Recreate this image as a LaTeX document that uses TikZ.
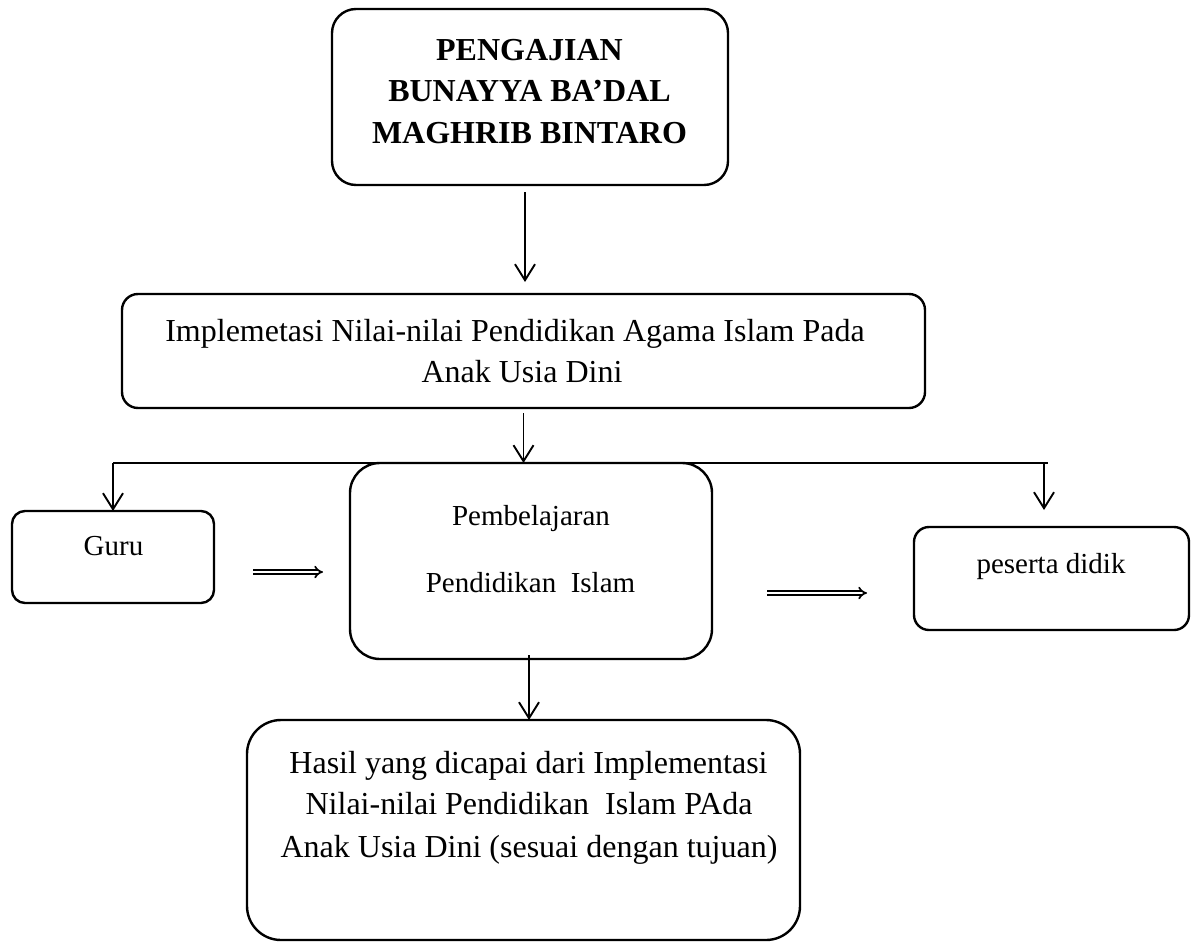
\documentclass[tikz,border=0pt]{standalone}
\usepackage{fontspec}
\setmainfont{Liberation Serif}
\usetikzlibrary{arrows.meta}
\begin{document}
\begin{tikzpicture}[x=1pt,y=-1pt,
  box/.style={draw, line width=2.4pt, inner sep=0pt, outer sep=0pt},
  arr/.style={line width=1.9pt, -{Straight Barb[length=16pt,width=20pt,line width=1.9pt]}},
  dbl/.style={double, double distance=2.4pt, line width=1.7pt, -{Implies}},
  bigtxt/.style={font=\fontsize{32}{41}\selectfont, anchor=base, inner sep=0pt},
  boldtxt/.style={font=\fontsize{32}{41}\selectfont\bfseries, anchor=base, inner sep=0pt},
  midtxt/.style={font=\fontsize{29}{35}\selectfont, anchor=base, inner sep=0pt},
]
\useasboundingbox (0,0) rectangle (1198,942);

% boxes
\node[box, rounded corners=24pt, minimum width=396pt, minimum height=176pt] (top) at (530,97) {};
\node[box, rounded corners=16pt, minimum width=803pt, minimum height=114pt] (box2) at (523.5,351) {};
\node[box, rounded corners=13pt, minimum width=202pt, minimum height=92pt] (guru) at (113,557) {};
\node[box, rounded corners=30pt, minimum width=362pt, minimum height=196pt] (pemb) at (531,561) {};
\node[box, rounded corners=15pt, minimum width=275pt, minimum height=103pt] (peserta) at (1051.5,578.5) {};
\node[box, rounded corners=34pt, minimum width=553pt, minimum height=220pt] (hasil) at (523.5,830) {};

% texts
\node[boldtxt] (t1) at (529.5,60) {PENGAJIAN};
\node[boldtxt] (t2) at (529.5,101.7) {BUNAYYA BA’DAL};
\node[boldtxt] (t3) at (529.5,143.3) {MAGHRIB BINTARO};

\node[bigtxt] (b1) at (515,341) {Implemetasi Nilai-nilai Pendidikan Agama Islam Pada};
\node[bigtxt] (b2) at (522,382) {Anak Usia Dini};

\node[midtxt] (g1) at (113.5,555) {Guru};
\node[midtxt] (p1) at (531,525.6) {Pembelajaran};
\node[midtxt] (p2) at (530.5,592.7) {Pendidikan\ \ Islam};
\node[midtxt] (s1) at (1051,573) {peserta didik};

\node[bigtxt] (h1) at (528.5,773) {Hasil yang dicapai dari Implementasi};
\node[bigtxt] (h2) at (529,814) {Nilai-nilai Pendidikan\ \ Islam PAda};
\node[bigtxt] (h3) at (529,857) {Anak Usia Dini (sesuai dengan tujuan)};

% branch line
\coordinate (hl) at (113,463);
\coordinate (pa) at (1044,463);
\coordinate (hr) at (1048,463);
\draw[line width=2.1pt] (hl) -- (hr);

% connectors
\draw[arr] ([xshift=-5pt,yshift=-7pt]top.south) -- ([xshift=1.5pt,yshift=12pt]box2.north);
\draw[arr] ([yshift=-5pt]box2.south) -- (box2.south |- hl);
\draw[arr] (hl) -- (guru.north);
\coordinate (pestop) at ([yshift=17pt]peserta.north);
\draw[arr] (pa) -- (pa |- pestop);
\draw[arr] ([xshift=-2pt,yshift=4pt]pemb.south) -- ([xshift=5.5pt]hasil.north);

\draw[dbl] ([shift={(39pt,-15pt)}]guru.east) -- ([shift={(-27pt,-11pt)}]pemb.west);
\draw[dbl] ([shift={(55pt,-32pt)}]pemb.east) -- ([shift={(-47pt,-14.5pt)}]peserta.west);
\end{tikzpicture}
\end{document}
